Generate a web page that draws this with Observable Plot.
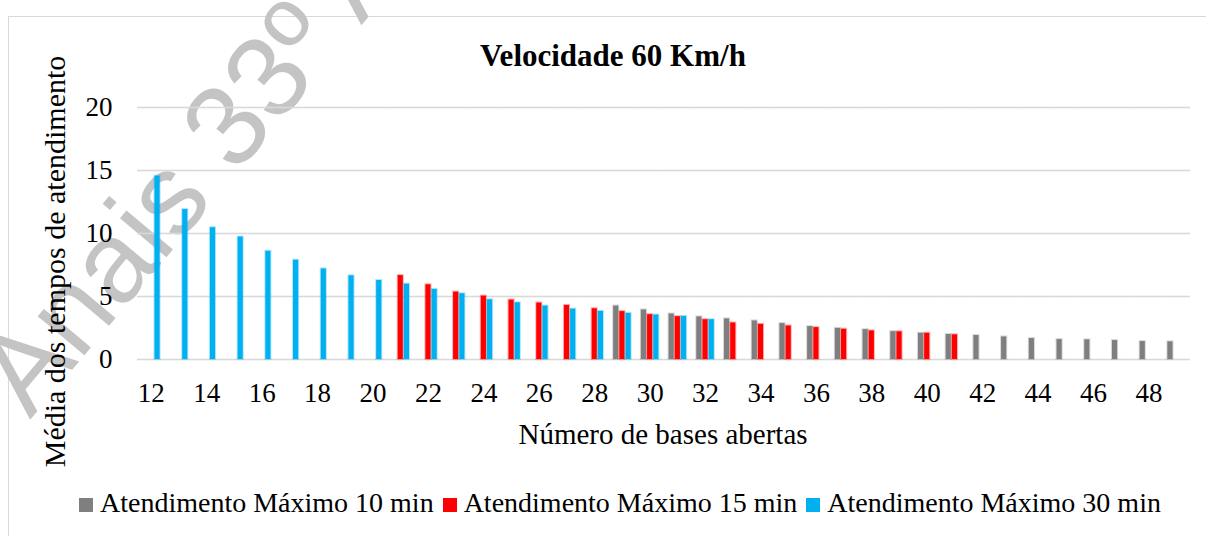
<!DOCTYPE html>
<html>
<head>
<meta charset="utf-8">
<script src="https://cdn.jsdelivr.net/npm/d3@7"></script>
<script src="https://cdn.jsdelivr.net/npm/@observablehq/plot@0.6"></script>
<style>
  html, body { margin: 0; padding: 0; background: #fff; width: 1206px; height: 536px; overflow: hidden; }
  #wrap { position: relative; width: 1206px; height: 536px; font-family: "Liberation Serif", "Times New Roman", serif; }
  #frame { position: absolute; left: 8px; top: 16px; width: 1300px; height: 700px; border: 1.5px solid #d9d9d9; }
  #overlay, #chart svg { position: absolute; left: 0; top: 0; }
  #legend { position: absolute; left: 79px; top: 489px; font-size: 28px; line-height: 28px; white-space: nowrap; color: #000; }
  #legend .item { display: inline-block; margin-right: 9px; }
  #legend .sw { display: inline-block; width: 14px; height: 14px; margin-right: 7px; vertical-align: baseline; }
</style>
</head>
<body>
<div id="wrap">
  <div id="frame"></div>
  <svg id="overlay" width="1206" height="536">
    <text x="30" y="420" transform="rotate(-50 30 420)" font-family="Liberation Sans, Arial, sans-serif" font-size="115" fill="#c4c4c4">Anais 33º ANPET</text>
  </svg>
  <div id="chart"></div>
  <svg id="labels" width="1206" height="536" style="position:absolute;left:0;top:0;pointer-events:none">
    <text x="613" y="66" text-anchor="middle" font-family="Liberation Serif, serif" font-weight="bold" font-size="31" fill="#000">Velocidade 60 Km/h</text>
    <text x="663" y="444" text-anchor="middle" font-family="Liberation Serif, serif" font-size="29" fill="#000">Número de bases abertas</text>
    <text transform="translate(65,261.5) rotate(-90)" text-anchor="middle" font-family="Liberation Serif, serif" font-size="30" fill="#000">Média dos tempos de atendimento</text>
  </svg>
  <div id="legend"></div>
</div>
<script>
// ---- data ----
const bases = [12,13,14,15,16,17,18,19,20,21,22,23,24,25,26,27,28,29,30,31,32,33,34,35,36,37,38,39,40,41,42,43,44,45,46,47,48,49];
const serieNames = ["Atendimento Máximo 10 min", "Atendimento Máximo 15 min", "Atendimento Máximo 30 min"];
const serieColors = ["#7f7f7f", "#ff0000", "#00b0f0"];
const max10 = [null,null,null,null,null,null,null,null,null,null,null,null,null,null,null,null,null,
  4.24,3.93,3.61,3.38,3.22,3.06,2.85,2.61,2.47,2.37,2.21,2.08,1.98,1.90,1.79,1.66,1.58,1.56,1.50,1.42,1.40];
const max15 = [null,null,null,null,null,null,null,null,null,
  6.66,5.93,5.35,5.03,4.72,4.48,4.29,4.03,3.80,3.56,3.40,3.16,2.90,2.79,2.66,2.53,2.40,2.27,2.20,2.08,1.96,
  null,null,null,null,null,null,null,null];
const max30 = [14.55,11.9,10.46,9.72,8.59,7.88,7.19,6.64,6.27,5.98,5.56,5.22,4.74,4.50,4.24,4.00,3.82,3.66,3.53,3.42,3.16,
  null,null,null,null,null,null,null,null,null,null,null,null,null,null,null,null,null];
const yTicks = [0, 5, 10, 15, 20];

// ---- table ----
const seriesValues = [max10, max15, max30];
const data = [];
bases.forEach((b, i) => {
  seriesValues.forEach((vals, s) => {
    if (vals[i] != null) data.push({base: b, serie: serieNames[s], value: vals[i]});
  });
});

const chart = Plot.plot({
  width: 1206,
  height: 440,
  marginTop: 107,
  marginBottom: 81,
  marginLeft: 137,
  marginRight: 16,
  style: {fontFamily: "'Liberation Serif', 'Times New Roman', serif", fontSize: "27px", color: "#000", background: "transparent", overflow: "visible"},
  fx: {domain: bases, padding: 0, round: false, label: null, axis: "bottom", tickSize: 0, tickPadding: 23, tickFormat: d => d % 2 === 0 ? String(d) : ""},
  x: {domain: serieNames, axis: null, round: false, paddingInner: 0.17, paddingOuter: 0.82},
  y: {domain: [0, 20], ticks: yTicks, label: null, tickSize: 0, tickPadding: 25},
  color: {domain: serieNames, range: serieColors},
  marks: [
    Plot.ruleY(yTicks, {stroke: "#d9d9d9", strokeWidth: 1.6}),
    Plot.barY(data, {fx: "base", x: "serie", y: "value", fill: "serie", stroke: "serie", strokeOpacity: 0.3, strokeWidth: 2})
  ]
});
document.getElementById("chart").appendChild(chart);

// ---- legend ----
const legend = document.getElementById("legend");
serieNames.forEach((name, i) => {
  const item = document.createElement("span");
  item.className = "item";
  const sw = document.createElement("span");
  sw.className = "sw";
  sw.style.background = serieColors[i];
  item.appendChild(sw);
  item.appendChild(document.createTextNode(name));
  legend.appendChild(item);
});
</script>
</body>
</html>
